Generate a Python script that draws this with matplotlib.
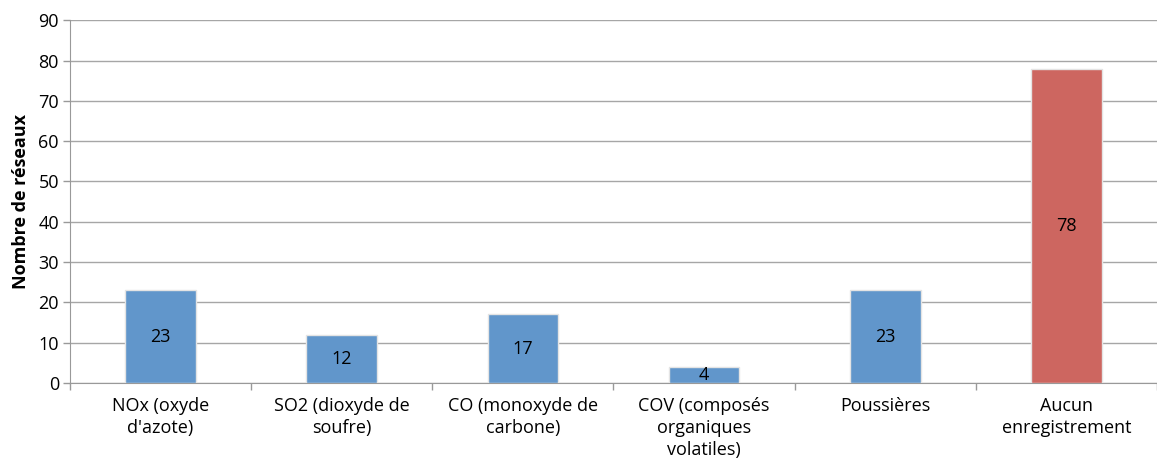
import matplotlib.pyplot as plt
import numpy as np

categories = ["NOx (oxyde\nd'azote)", "SO2 (dioxyde de\nsoufre)", "CO (monoxyde de\ncarbone)",
              "COV (composés\norganiques\nvolatiles)", "Poussières", "Aucun\nenregistrement"]
values = [23, 12, 17, 4, 23, 78]
colors = ['#6196CB'] * 5 + ['#CD6660']

plt.rcParams['font.family'] = ['Open Sans', 'DejaVu Sans']

fig = plt.figure(figsize=(11.57, 4.59), dpi=100)
ax = fig.add_axes([0.0605, 0.1656, 0.9395, 0.7904])

x = np.arange(len(values))
bars = ax.bar(x, values, width=0.39, color=colors, edgecolor='#e4e4e4', linewidth=1, zorder=3)
for b, v in zip(bars, values):
    ax.text(b.get_x() + b.get_width() / 2, v / 2, str(v), ha='center', va='center',
            fontsize=13, color='black', zorder=4)

ax.set_xlim(-0.5, len(values) - 0.5)
ax.set_ylim(0, 90)
ax.set_yticks(range(0, 91, 10))
ax.yaxis.grid(True, color='#a6a6a6', linewidth=1, zorder=0)
ax.set_axisbelow(True)

ax.set_xticks(x)
ax.set_xticklabels(categories, fontsize=13, linespacing=1.3)
ax.set_xticks(np.arange(-0.5, len(values)), minor=True)
ax.tick_params(axis='x', which='major', length=0, pad=10)
ax.tick_params(axis='x', which='minor', length=5, color='#999999', width=1)
ax.tick_params(axis='y', length=5, color='#999999', width=1, labelsize=13, pad=3)

for s in ['top', 'right']:
    ax.spines[s].set_visible(False)
ax.spines['left'].set_color('#999999')
ax.spines['bottom'].set_color('#999999')

ax.set_ylabel('Nombre de réseaux', fontsize=13, fontweight='bold', labelpad=6)

fig.savefig('out.png', dpi=100)
